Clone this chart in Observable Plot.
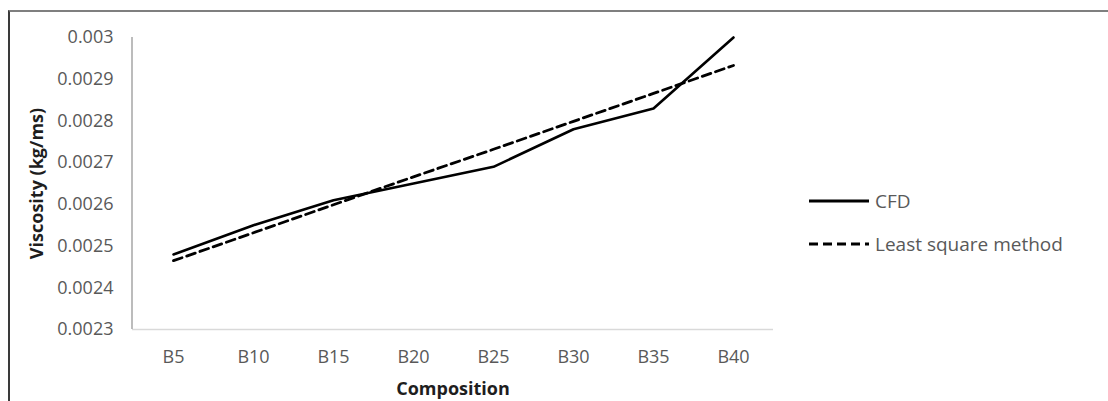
<!DOCTYPE html>
<html>
<head>
<meta charset="utf-8">
<script src="https://cdn.jsdelivr.net/npm/d3@7"></script>
<script src="https://cdn.jsdelivr.net/npm/@observablehq/plot@0.6"></script>
<style>
  html, body { margin: 0; padding: 0; background: #fff; }
  #wrap { position: relative; width: 1108px; height: 401px; overflow: hidden; font-family: "Open Sans", sans-serif; }
  #chart { position: absolute; left: 0; top: 0; }
  #border { position: absolute; left: 8px; top: 10px; width: 1110px; height: 400px; border-top: 2px solid #7f7f7f; border-left: 2px solid #3a3a3a; box-sizing: border-box; pointer-events: none; }
  .leg { position: absolute; left: 808px; display: flex; align-items: center; font-size: 19px; color: #595959; }
  .leg svg { display: block; margin-right: 5px; }
</style>
</head>
<body>
<div id="wrap">
  <div id="chart"></div>
  <div id="border"></div>
  <div id="legend"></div>
</div>
<script>
const categories = ["B5", "B10", "B15", "B20", "B25", "B30", "B35", "B40"];
const cfd = [0.00248, 0.00255, 0.00261, 0.00265, 0.00269, 0.00278, 0.00283, 0.00300];
const leastSquare = [0.002465, 0.002532, 0.002599, 0.002666, 0.002732, 0.002799, 0.002866, 0.002933];
const seriesNames = ["CFD", "Least square method"];
const yTicks = [0.0023, 0.0024, 0.0025, 0.0026, 0.0027, 0.0028, 0.0029, 0.003];
const xTitle = "Composition";
const yTitle = "Viscosity (kg/ms)";

const data = categories.flatMap((c, i) => [
  {comp: c, value: cfd[i], series: seriesNames[0]},
  {comp: c, value: leastSquare[i], series: seriesNames[1]}
]);

const yAxisLine = (index, scales, values, dimensions) => {
  const l = d3.create("svg:line")
    .attr("x1", dimensions.marginLeft).attr("x2", dimensions.marginLeft)
    .attr("y1", scales.y(yTicks[0])).attr("y2", scales.y(yTicks[yTicks.length - 1]))
    .attr("stroke", "#a6a6a6").attr("stroke-width", 1.5);
  return l.node();
};

const chart = Plot.plot({
  width: 1108,
  height: 401,
  marginLeft: 132,
  marginRight: 335,
  marginTop: 37,
  marginBottom: 72,
  style: {fontFamily: "'Open Sans', sans-serif", fontSize: "18px", background: "transparent", overflow: "visible"},
  x: {type: "point", domain: categories, padding: 0.5, label: null},
  y: {domain: [yTicks[0], yTicks[yTicks.length - 1]], label: null},
  marks: [
    Plot.ruleY([yTicks[0]], {stroke: "#d9d9d9", strokeWidth: 1.5}),
    yAxisLine,
    Plot.axisY(yTicks, {tickSize: 0, tickPadding: 19, fill: "#595959", label: null, fontSize: 18,
      tickFormat: d => String(+d.toFixed(4))}),
    Plot.axisX({tickSize: 0, tickPadding: 21, fill: "#595959", label: null, fontSize: 18}),
    Plot.line(data.filter(d => d.series === seriesNames[1]), {x: "comp", y: "value", stroke: "#000", strokeWidth: 2.8, strokeDasharray: "9,5"}),
    Plot.line(data.filter(d => d.series === seriesNames[0]), {x: "comp", y: "value", stroke: "#000", strokeWidth: 2.6}),
    Plot.text([xTitle], {frameAnchor: "bottom", dy: 60, fontWeight: "bold", fill: "#1e1e1e", fontSize: 18, lineAnchor: "middle"}),
    Plot.text([yTitle], {frameAnchor: "left", textAnchor: "middle", dx: -95, rotate: -90, fontWeight: "bold", fill: "#1e1e1e", fontSize: 18, lineAnchor: "middle"})
  ]
});
document.getElementById("chart").appendChild(chart);

const legend = document.getElementById("legend");
const legTops = [188, 231];
seriesNames.forEach((name, i) => {
  const row = document.createElement("div");
  row.className = "leg";
  row.style.top = legTops[i] + "px";
  row.innerHTML = `<svg width="62" height="24"><line x1="1" x2="61" y1="12" y2="12" stroke="#000" stroke-width="${i === 0 ? 3.2 : 2.8}" ${i === 1 ? 'stroke-dasharray="9,5"' : ''}/></svg><span>${name}</span>`;
  legend.appendChild(row);
});
</script>
</body>
</html>
